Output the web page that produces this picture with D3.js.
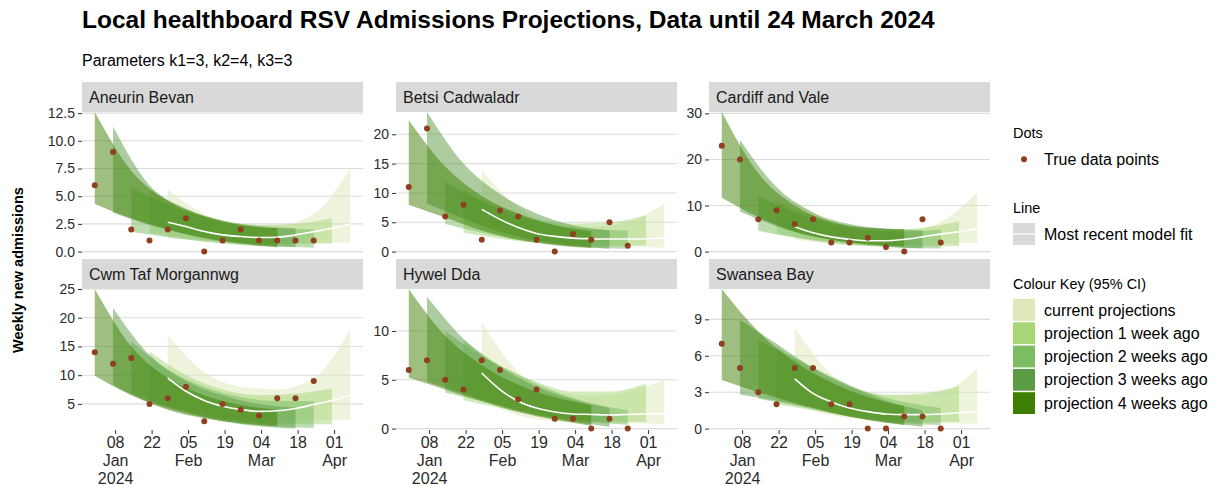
<!DOCTYPE html>
<html lang="en">
<head>
<meta charset="utf-8">
<script src="https://cdn.jsdelivr.net/npm/d3@7"></script>
<style>
  body { margin: 0; background: #fff; }
  text { font-family: "Liberation Sans", Arial, sans-serif; }
</style>
</head>
<body>
<svg id="chart" width="1220" height="486"></svg>
<script>
// weekly dates (Sunday week ending)
var weeks = ["2023-12-31","2024-01-07","2024-01-14","2024-01-21","2024-01-28","2024-02-04",
  "2024-02-11","2024-02-18","2024-02-25","2024-03-03","2024-03-10","2024-03-17",
  "2024-03-24","2024-03-31","2024-04-07"];

var boards = ["Aneurin Bevan","Betsi Cadwaladr","Cardiff and Vale",
  "Cwm Taf Morgannwg","Hywel Dda","Swansea Bay"];

var projLabels = ["current projections","projection 1 week ago","projection 2 weeks ago",
  "projection 3 weeks ago","projection 4 weeks ago"];
var projColours = ["#dee8b8","#a8d679","#7cbc63","#5b9b43","#3d7f00"];

var xTickDates = ["2024-01-08","2024-01-22","2024-02-05","2024-02-19","2024-03-04","2024-03-18","2024-04-01"];
var xTickLabels = [["08","Jan","2024"],["22"],["05","Feb"],["19"],["04","Mar"],["18"],["01","Apr"]];

var yTicks = [[0,2.5,5,7.5,10,12.5],[0,5,10,15,20],[0,10,20,30],[5,10,15,20,25],[0,5,10],[0,3,6,9]];
var yTickLabels = [["0.0","2.5","5.0","7.5","10.0","12.5"],["0","5","10","15","20"],["0","10","20","30"],
  ["5","10","15","20","25"],["0","5","10"],["0","3","6","9"]];

// true weekly admissions, weeks[0..12]
var dotsAB = [6,9,2,1,2,3,0,1,2,1,1,1,1];
var dotsBC = [11,21,6,8,2,7,6,2,0,3,2,5,1];
var dotsCV = [23,20,7,9,6,7,2,2,3,1,0,7,2];
var dotsCT = [14,12,13,5,6,8,2,5,4,3,6,6,9];
var dotsHD = [6,7,5,4,7,6,3,4,1,1,0,1,0];
var dotsSB = [7,5,3,2,5,5,2,2,0,0,1,1,0];

// most recent model fit, weeks[4..14]
var fitAB = [2.65,2.26,1.81,1.51,1.36,1.27,1.3,1.5,1.8,2.1,2.5];
var fitBC = [7.2,5.5,4.1,3.1,2.6,2.3,2.2,2.15,2.15,2.2,2.3];
var fitCV = [5.4,4.1,3.2,2.66,2.37,2.37,2.66,3.2,3.8,4.3,5.0];
var fitCT = [9.5,7.2,5.6,4.6,4.0,3.7,3.8,4.2,4.9,5.6,6.45];
var fitHD = [5.7,4.0,2.8,2.1,1.7,1.5,1.45,1.4,1.45,1.5,1.53];
var fitSB = [4.1,2.9,2.2,1.7,1.4,1.2,1.15,1.15,1.2,1.3,1.4];

// 95% CI bounds per projection (current, 1..4 weeks ago), every 2 weeks over 10 weeks
var highAB = [[5.6,3.4,2.5,2.4,3.4,7.5],[5.5,3.8,2.8,2.4,2.5,3.0],[5.8,4.2,3.1,2.4,2.1,2.0],
  [11.3,6.0,3.9,2.8,2.3,2.1],[12.6,7.3,4.6,3.2,2.4,2.1]];
var lowAB = [[1.25,0.96,0.74,0.7,0.8,0.83],[1.7,1.2,0.9,0.75,0.7,0.75],[1.8,1.3,0.9,0.6,0.45,0.35],
  [3.5,2.4,1.6,1.0,0.6,0.4],[4.3,3.0,2.0,1.2,0.7,0.4]];

var highBC = [[13.9,7.5,4.8,4.2,5.0,8.2],[10.5,7.5,5.5,4.8,5.0,6.2],[11.9,8.5,6.0,4.5,3.8,3.6],
  [23.8,15.0,9.8,6.5,4.5,3.6],[22.4,14.5,9.5,6.5,4.5,3.5]];
var lowBC = [[3.7,2.2,1.4,1.15,0.92,0.65],[3.2,2.2,1.5,1.1,1.0,1.1],[4.7,3.2,2.0,1.2,0.7,0.5],
  [8.2,5.6,3.4,1.9,1.0,0.5],[8.0,5.8,3.6,2.0,1.1,0.6]];

var highCV = [[11.0,6.5,4.6,4.5,6.5,12.8],[11.0,7.5,5.5,4.8,5.2,6.6],[12.0,8.5,6.0,4.6,4.3,4.8],
  [24.2,14.0,8.5,6.0,5.0,4.6],[30.3,17.0,10.0,6.5,5.2,4.9]];
var lowCV = [[2.66,1.6,1.22,1.4,1.8,1.85],[3.95,2.6,1.7,1.3,1.1,1.2],[4.5,3.0,1.9,1.2,0.8,0.7],
  [8.7,5.5,3.3,2.0,1.1,0.7],[11.7,7.5,4.3,2.6,1.6,1.1]];

var highCT = [[17.0,10.5,8.0,7.5,9.5,17.9],[14.1,10.0,7.5,6.5,6.8,7.7],[15.9,11.0,8.0,6.2,5.5,5.5],
  [21.7,13.5,9.0,6.5,5.0,4.4],[25.0,15.0,9.5,6.5,4.8,4.0]];
var lowCT = [[5.3,3.1,2.1,1.9,2.2,2.3],[5.7,3.8,2.5,1.8,1.5,1.45],[6.9,4.5,2.8,1.8,1.1,0.8],
  [8.3,5.3,3.4,2.0,1.1,0.7],[9.9,6.5,4.0,2.5,1.6,1.1]];

var highHD = [[10.9,5.8,3.8,3.4,3.8,5.0],[9.1,6.5,4.8,3.8,3.8,4.6],[10.0,7.5,5.5,3.8,2.6,1.9],
  [13.5,9.2,6.3,4.3,3.0,2.1],[14.3,9.5,6.5,4.5,3.2,2.4]];
var lowHD = [[3.0,1.35,0.76,0.62,0.55,0.5],[2.9,2.1,1.4,0.9,0.7,0.7],[3.7,2.8,1.9,1.2,0.7,0.4],
  [4.8,3.6,2.4,1.4,0.7,0.2],[5.2,4.0,2.8,1.7,0.9,0.3]];

var highSB = [[8.3,4.5,3.0,2.7,3.0,4.9],[6.8,4.8,3.4,2.8,2.9,3.5],[7.25,5.8,4.3,3.0,2.2,1.7],
  [8.95,7.0,5.0,3.5,2.3,1.5],[11.5,8.0,5.5,3.8,2.6,1.85]];
var lowSB = [[2.0,1.1,0.75,0.5,0.45,0.4],[2.0,1.5,1.0,0.7,0.55,0.55],[2.45,1.9,1.3,0.8,0.45,0.3],
  [2.8,2.3,1.7,1.0,0.5,0.15],[4.0,3.0,2.1,1.3,0.7,0.3]];

var dots = [dotsAB,dotsBC,dotsCV,dotsCT,dotsHD,dotsSB];
var fits = [fitAB,fitBC,fitCV,fitCT,fitHD,fitSB];
var highs = [highAB,highBC,highCV,highCT,highHD,highSB];
var lows = [lowAB,lowBC,lowCV,lowCT,lowHD,lowSB];

// layout
var colLeft = [82, 396, 709];
var stripTop = [82, 259];
var panelW = 281, stripH = 30, panelH = 141;
var dotColour = "#8e4020";

var parse = d3.utcParse("%Y-%m-%d");
var wk = weeks.map(parse);
var svg = d3.select("#chart");

svg.append("text").attr("x", 82).attr("y", 28)
  .attr("font-size", 24.5).attr("font-weight", "bold").attr("fill", "#000")
  .text("Local healthboard RSV Admissions Projections, Data until 24 March 2024");
svg.append("text").attr("x", 82).attr("y", 66)
  .attr("font-size", 16).attr("fill", "#000")
  .text("Parameters k1=3, k2=4, k3=3");

svg.append("text")
  .attr("transform", "translate(23,270) rotate(-90)")
  .attr("text-anchor", "middle").attr("font-size", 14.5).attr("font-weight", "bold")
  .text("Weekly new admissions");

boards.forEach(function(name, b) {
  var row = Math.floor(b / 3), col = b % 3;
  var left = colLeft[col], top = stripTop[row] + stripH, bottom = top + panelH;
  var pad = panelW * 0.05 / 1.1;

  var x = d3.scaleUtc().domain([wk[0], wk[14]]).range([left + pad, left + panelW - pad]);

  var all = dots[b].concat(d3.merge(highs[b]), d3.merge(lows[b]));
  var lo = d3.min(all), hi = d3.max(all);
  var y = d3.scaleLinear().domain([lo - (hi - lo) * 0.01, hi]).range([bottom, top]);

  var g = svg.append("g");

  // strip
  g.append("rect").attr("x", left).attr("y", stripTop[row])
    .attr("width", panelW).attr("height", stripH).attr("fill", "#d9d9d9");
  g.append("text").attr("x", left + 7).attr("y", stripTop[row] + 20.5)
    .attr("font-size", 16).attr("fill", "#1a1a1a").text(name);

  // gridlines
  g.selectAll("line.grid").data(yTicks[b]).enter().append("line")
    .attr("class", "grid")
    .attr("x1", left).attr("x2", left + panelW)
    .attr("y1", function(d) { return y(d); }).attr("y2", function(d) { return y(d); })
    .attr("stroke", "#dcdcdc").attr("stroke-width", 1.1);

  // y axis
  var yAxis = d3.axisLeft(y).tickValues(yTicks[b])
    .tickFormat(function(d, i) { return yTickLabels[b][i]; })
    .tickSize(4).tickPadding(3);
  var ya = g.append("g").attr("transform", "translate(" + left + ",0)").call(yAxis);
  ya.select(".domain").remove();
  ya.attr("font-size", 14).attr("font-family", "Liberation Sans, Arial, sans-serif");
  ya.selectAll("line").attr("stroke", "#333");
  ya.selectAll("text").attr("fill", "#2b2b2b");

  // clip
  var clipId = "clip" + b;
  svg.append("clipPath").attr("id", clipId).append("rect")
    .attr("x", left).attr("y", top).attr("width", panelW).attr("height", panelH);
  var plot = g.append("g").attr("clip-path", "url(#" + clipId + ")");

  // ribbons
  projLabels.forEach(function(lab, k) {
    var s = 4 - k;
    var pts = highs[b][k].map(function(h, j) {
      return { date: wk[s + 2 * j], hi: h, lo: lows[b][k][j] };
    });
    var area = d3.area()
      .x(function(d) { return x(d.date); })
      .y0(function(d) { return y(d.lo); })
      .y1(function(d) { return y(d.hi); })
      .curve(d3.curveMonotoneX);
    plot.append("path").datum(pts).attr("d", area)
      .attr("fill", projColours[k]).attr("fill-opacity", 0.5);
  });

  // most recent fit
  var line = d3.line()
    .x(function(d, i) { return x(wk[4 + i]); })
    .y(function(d) { return y(d); })
    .curve(d3.curveMonotoneX);
  plot.append("path").datum(fits[b]).attr("d", line)
    .attr("fill", "none").attr("stroke", "#fff").attr("stroke-width", 1.6);

  // true data
  g.selectAll("circle.pt").data(dots[b]).enter().append("circle")
    .attr("class", "pt")
    .attr("cx", function(d, i) { return x(wk[i]); })
    .attr("cy", function(d) { return y(d); })
    .attr("r", 3).attr("fill", dotColour);

  // x axis, bottom row only
  if (row === 1) {
    var ticks = xTickDates.map(parse);
    g.selectAll("line.xt").data(ticks).enter().append("line")
      .attr("x1", function(d) { return x(d); }).attr("x2", function(d) { return x(d); })
      .attr("y1", bottom).attr("y2", bottom + 4).attr("stroke", "#333");
    var lbl = g.selectAll("text.xl").data(ticks).enter().append("text")
      .attr("text-anchor", "middle").attr("font-size", 16).attr("fill", "#2b2b2b");
    lbl.each(function(d, i) {
      var t = d3.select(this);
      xTickLabels[i].forEach(function(s, j) {
        t.append("tspan").attr("x", x(d)).attr("y", bottom + 17.5 + j * 18).text(s);
      });
    });
  }
});

// legend
var lg = svg.append("g");
lg.append("text").attr("x", 1013).attr("y", 137.5).attr("font-size", 14.5).text("Dots");
lg.append("circle").attr("cx", 1024).attr("cy", 159.3).attr("r", 3).attr("fill", dotColour);
lg.append("text").attr("x", 1044).attr("y", 165).attr("font-size", 16).text("True data points");

lg.append("text").attr("x", 1013).attr("y", 213).attr("font-size", 14.5).text("Line");
lg.append("rect").attr("x", 1013).attr("y", 223).attr("width", 22).attr("height", 22).attr("fill", "#d9d9d9");
lg.append("line").attr("x1", 1013).attr("x2", 1035).attr("y1", 234).attr("y2", 234)
  .attr("stroke", "#fff").attr("stroke-width", 1.2);
lg.append("text").attr("x", 1044).attr("y", 239.5).attr("font-size", 16).text("Most recent model fit");

lg.append("text").attr("x", 1013).attr("y", 289).attr("font-size", 14.5).text("Colour Key (95% CI)");
lg.selectAll("rect.key").data(projLabels).enter().append("rect")
  .attr("class", "key")
  .attr("x", 1013).attr("y", function(d, i) { return 299 + i * 23.3; })
  .attr("width", 22).attr("height", 21.8)
  .attr("fill", function(d, i) { return projColours[i]; });
lg.selectAll("text.key").data(projLabels).enter().append("text")
  .attr("class", "key")
  .attr("x", 1044).attr("y", function(d, i) { return 299 + i * 23.3 + 16.5; })
  .attr("font-size", 16).text(function(d) { return d; });
</script>
</body>
</html>
